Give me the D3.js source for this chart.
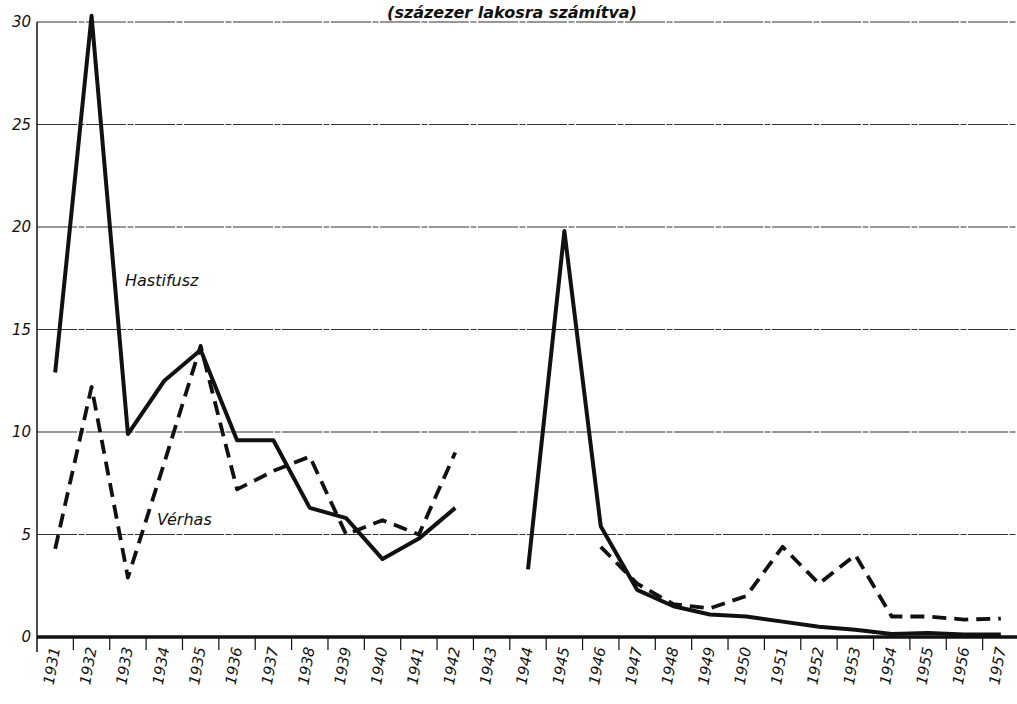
<!DOCTYPE html>
<html><head><meta charset="utf-8">
<script src="https://cdn.jsdelivr.net/npm/d3@7"></script>
<style>body{margin:0;background:#fff}svg{display:block}</style>
</head><body>
<svg id="c" width="1017" height="704"></svg>
<script>
const years = [1931,1932,1933,1934,1935,1936,1937,1938,1939,1940,1941,1942,1943,1944,1945,1946,1947,1948,1949,1950,1951,1952,1953,1954,1955,1956,1957];
const hastifusz = [12.9,30.3,9.9,12.5,14.0,9.6,9.6,6.3,5.8,3.8,4.8,6.3,null,3.3,19.8,5.4,2.3,1.5,1.1,1.0,0.75,0.5,0.35,0.15,0.2,0.12,0.12];
const verhas = [4.3,12.2,2.9,8.5,14.2,7.2,8.1,8.8,5.0,5.7,5.0,9.0,null,3.3,null,4.4,2.6,1.6,1.4,2.0,4.4,2.6,4.0,1.0,1.0,0.85,0.9];
const yTicks = [0,5,10,15,20,25,30];
const title = "(százezer lakosra számítva)";
const seriesLabels = ["Hastifusz","Vérhas"];

const svg = d3.select("#c");
const x = d3.scaleBand().domain(years).range([37,1019]).padding(0);
const y = d3.scaleLinear().domain([0,30]).range([637,22]);
const ink = "#111";

// title
svg.append("text").attr("x",512).attr("y",18).attr("text-anchor","middle")
  .attr("font-family","DejaVu Sans").attr("font-style","italic").attr("font-weight","bold")
  .attr("font-size",16).attr("fill",ink).text(title);

// gridlines
svg.append("g").selectAll("line").data(yTicks.filter(d=>d>0)).join("line")
  .attr("x1",37).attr("x2",1017).attr("y1",d=>y(d)).attr("y2",d=>y(d))
  .attr("stroke","#333").attr("stroke-width",1.1).attr("stroke-dasharray","40,1.5,6,1.5");

// y axis line
svg.append("line").attr("x1",37).attr("x2",37).attr("y1",y(30)).attr("y2",652)
  .attr("stroke",ink).attr("stroke-width",1.5);

// y tick labels
svg.append("g").selectAll("text").data(yTicks).join("text")
  .attr("x",31).attr("y",d=>y(d)+5).attr("text-anchor","end")
  .attr("font-family","DejaVu Sans").attr("font-style","italic")
  .attr("font-size",15).attr("fill",ink).text(d=>d);

// x axis (zero line)
svg.append("line").attr("x1",37).attr("x2",1017).attr("y1",y(0)).attr("y2",y(0))
  .attr("stroke",ink).attr("stroke-width",3.5);

// category boundary ticks
svg.append("g").selectAll("line").data(years.slice(1)).join("line")
  .attr("x1",d=>x(d)).attr("x2",d=>x(d)).attr("y1",y(0)).attr("y2",650)
  .attr("stroke",ink).attr("stroke-width",1.2);

// year labels
svg.append("g").selectAll("text").data(years).join("text")
  .attr("transform",d=>`translate(${x(d)+x.bandwidth()/2+5},${648}) rotate(-80)`)
  .attr("text-anchor","end")
  .attr("font-family","DejaVu Sans").attr("font-style","italic")
  .attr("font-size",15).attr("fill",ink).text(d=>d);

const cx = d=>x(d)+x.bandwidth()/2;
const line = d3.line().defined(d=>d[1]!=null).x(d=>cx(d[0])).y(d=>y(d[1]));

svg.append("path").datum(years.map((yr,i)=>[yr,verhas[i]]))
  .attr("d",line).attr("fill","none").attr("stroke",ink)
  .attr("stroke-width",3.8).attr("stroke-dasharray","14,8").attr("stroke-linejoin","round");

svg.append("path").datum(years.map((yr,i)=>[yr,hastifusz[i]]))
  .attr("d",line).attr("fill","none").attr("stroke",ink)
  .attr("stroke-width",4).attr("stroke-linejoin","round");

// series labels
svg.append("text").attr("x",125).attr("y",y(17.1)).attr("font-family","DejaVu Sans")
  .attr("font-style","italic").attr("font-size",16).attr("fill",ink).text(seriesLabels[0]);
svg.append("text").attr("x",157).attr("y",y(5.45)).attr("font-family","DejaVu Sans")
  .attr("font-style","italic").attr("font-size",16).attr("fill",ink).text(seriesLabels[1]);
</script>
</body></html>
